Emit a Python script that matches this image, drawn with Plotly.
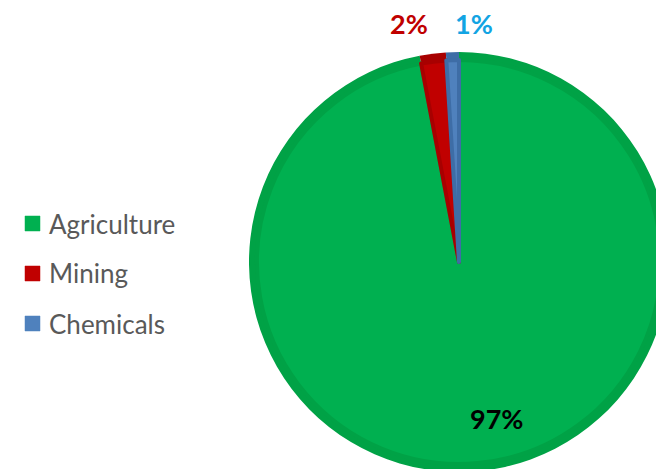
import plotly.graph_objects as go

# Share of the total by sector
sectors = ["Agriculture", "Mining", "Chemicals"]
shares = [97, 2, 1]

fill_colors = ["#00B050", "#C00000", "#4F81BD"]
edge_colors = ["#00A246", "#A80000", "#3E6DA6"]
label_colors = ["#000000", "#C00000", "#12A4E3"]

# Canvas is a little larger than the visible window so the pie bleeds off the right/bottom edges
W, H = 680, 490
cx, cy = 459, 262          # pie centre in pixels (from top-left)
r_outer, r_inner = 210, 202


def dom(r):
    return dict(x=[(cx - r) / W, (cx + r) / W],
                y=[(H - (cy + r)) / H, (H - (cy - r)) / H])


fig = go.Figure()

# dark outer ring (edge colour of each slice)
fig.add_trace(go.Pie(
    labels=sectors, values=shares, sort=False, direction="clockwise", rotation=0,
    marker=dict(colors=edge_colors, line=dict(width=0)),
    textinfo="none", hoverinfo="label+percent", showlegend=False, domain=dom(r_outer),
))
# lighter slice bodies on top
fig.add_trace(go.Pie(
    labels=sectors, values=shares, sort=False, direction="clockwise", rotation=0,
    marker=dict(colors=fill_colors, line=dict(color=edge_colors, width=4)),
    textinfo="none", hoverinfo="label+percent", showlegend=False, domain=dom(r_inner),
))

total = sum(shares)
# percentage labels (pixel anchors)
label_pos = [(497, 418), (409, 23), (474, 23)]
annotations = []
for v, c, (px, py) in zip(shares, label_colors, label_pos):
    annotations.append(dict(
        x=px / W, y=(H - py) / H, xref="paper", yref="paper",
        text=f"<b>{v / total * 100:.0f}%</b>", showarrow=False,
        xanchor="center", yanchor="middle",
        font=dict(family="Lato", size=27, color=c),
    ))

# hand-drawn legend: square swatch + grey label
shapes = []
legend_y = [223.5, 273.5, 323.5]
for name, col, ly in zip(sectors, fill_colors, legend_y):
    shapes.append(dict(
        type="rect", xref="paper", yref="paper",
        x0=25 / W, x1=40 / W, y0=(H - (ly + 7.5)) / H, y1=(H - (ly - 7.5)) / H,
        fillcolor=col, line=dict(color=col, width=0.5),
    ))
    annotations.append(dict(
        x=47 / W, y=(H - ly) / H, xref="paper", yref="paper",
        text=name, showarrow=False, xanchor="left", yanchor="middle",
        font=dict(family="Lato", size=26, color="#595959"),
    ))

fig.update_layout(
    width=W, height=H,
    margin=dict(l=0, r=0, t=0, b=0),
    paper_bgcolor="white", plot_bgcolor="white",
    annotations=annotations, shapes=shapes,
)

fig.write_html(
    "out.html",
    post_script="document.documentElement.style.overflow='hidden';"
                "document.body.style.overflow='hidden';document.body.style.margin='0';",
)
